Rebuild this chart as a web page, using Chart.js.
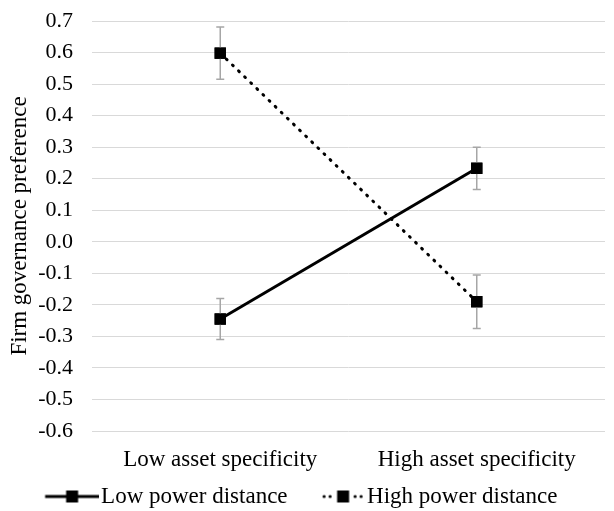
<!DOCTYPE html>
<html>
<head>
<meta charset="utf-8">
<script src="https://cdn.jsdelivr.net/npm/chart.js@4/dist/chart.umd.min.js"></script>
<style>
  html, body { margin: 0; padding: 0; background: #fff; }
  #wrap { width: 614px; height: 511px; }
</style>
</head>
<body>
<div id="wrap"><canvas id="lineChart" width="614" height="511"></canvas></div>
<script>
const categories = ['Low asset specificity', 'High asset specificity'];
const lowPowerValues = [-0.245, 0.233];
const lowPowerErrors = [0.065, 0.067];
const highPowerValues = [0.598, -0.19];
const highPowerErrors = [0.083, 0.085];

const errorSets = [lowPowerErrors, highPowerErrors];

// legend marker: line with a square in the middle (drawn right-aligned so the text sits close)
function legendIcon(dotted) {
    const c = document.createElement('canvas');
    c.width = 76; c.height = 14;
    const g = c.getContext('2d');
    g.fillStyle = '#000';
    if (dotted) {
        [35.5, 41.5, 66.5, 72.5].forEach(x => {
            g.beginPath();
            g.arc(x, 7, 1.6, 0, Math.PI * 2);
            g.fill();
        });
        g.fillRect(48.5, 1, 12, 12);
    } else {
        g.fillRect(22.5, 5.5, 54, 3);
        g.fillRect(43.5, 1, 12, 12);
    }
    return c;
}

const errorBars = {
    id: 'errorBars',
    afterLayout(chart) {
        // nudge the centred legend row a little to the left
        if (chart.legend && chart.legend.lineWidths) chart.legend.lineWidths[0] += 22;
    },
    afterDatasetsDraw(chart) {
        const ctx = chart.ctx;
        const y = chart.scales.y;
        ctx.save();
        ctx.strokeStyle = '#a6a6a6';
        ctx.lineWidth = 1.5;
        chart.data.datasets.forEach((ds, i) => {
            const meta = chart.getDatasetMeta(i);
            meta.data.forEach((pt, j) => {
                const v = ds.data[j], e = errorSets[i][j];
                const top = y.getPixelForValue(v + e);
                const bot = y.getPixelForValue(v - e);
                ctx.beginPath();
                ctx.moveTo(pt.x, top); ctx.lineTo(pt.x, bot);
                ctx.moveTo(pt.x - 4, top); ctx.lineTo(pt.x + 4, top);
                ctx.moveTo(pt.x - 4, bot); ctx.lineTo(pt.x + 4, bot);
                ctx.stroke();
            });
        });
        ctx.restore();
        // redraw points on top of error bars
        chart.data.datasets.forEach((ds, i) => {
            chart.getDatasetMeta(i).data.forEach(pt => pt.draw(ctx));
        });
    }
};

const ctx = document.getElementById('lineChart').getContext('2d');
new Chart(ctx, {
    type: 'line',
    data: {
        labels: categories,
        datasets: [{
            label: 'Low power distance',
            data: lowPowerValues,
            borderColor: '#000',
            backgroundColor: '#000',
            borderWidth: 3,
            pointStyle: 'rect',
            pointRadius: 8,
            pointBackgroundColor: '#000',
            pointBorderWidth: 0
        }, {
            label: 'High power distance',
            data: highPowerValues,
            borderColor: '#000',
            backgroundColor: '#000',
            borderWidth: 3,
            borderDash: [1, 7.5],
            borderCapStyle: 'round',
            pointStyle: 'rect',
            pointRadius: 8,
            pointBackgroundColor: '#000',
            pointBorderWidth: 0
        }]
    },
    options: {
        responsive: false,
        animation: false,
        layout: { padding: { top: 21, right: 9, left: 6, bottom: -7 } },
        plugins: {
            tooltip: { enabled: false },
            legend: {
                position: 'bottom',
                labels: {
                    color: '#000',
                    font: { family: 'Liberation Serif', size: 23 },
                    usePointStyle: true,
                    pointStyleWidth: 58,
                    padding: 10,
                    generateLabels(chart) {
                        return chart.data.datasets.map((ds, i) => ({
                            text: ds.label,
                            pointStyle: legendIcon(i === 1),
                            fillStyle: '#000',
                            strokeStyle: '#000',
                            lineWidth: 0,
                            datasetIndex: i
                        }));
                    }
                }
            }
        },
        scales: {
            x: {
                offset: true,
                grid: { display: false, drawTicks: false },
                border: { display: false },
                afterFit(scale) { scale.height = 44; },
                ticks: {
                    color: '#000',
                    padding: 15,
                    font: { family: 'Liberation Serif', size: 23 }
                }
            },
            y: {
                min: -0.6,
                max: 0.7,
                grid: { color: '#d9d9d9', lineWidth: 1, drawTicks: false },
                border: { display: false },
                afterFit(scale) {
                    scale.width = 86;
                    scale.paddingTop = 0;
                    scale.paddingBottom = 0;
                },
                ticks: {
                    stepSize: 0.1,
                    autoSkip: false,
                    color: '#000',
                    padding: 19,
                    font: { family: 'Liberation Serif', size: 22 },
                    callback: v => Math.abs(v) < 1e-9 ? '0.0' : v.toFixed(1)
                },
                title: {
                    display: true,
                    text: 'Firm governance preference',
                    color: '#000',
                    padding: 0,
                    font: { family: 'Liberation Serif', size: 23 }
                }
            }
        }
    },
    plugins: [errorBars]
});
</script>
</body>
</html>
